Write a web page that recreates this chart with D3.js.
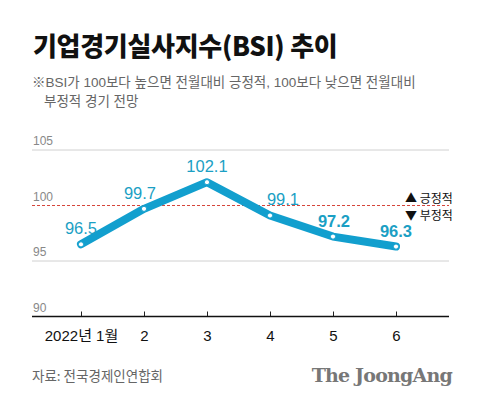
<!DOCTYPE html>
<html>
<head>
<meta charset="utf-8">
<script src="https://cdn.jsdelivr.net/npm/d3@7"></script>
<style>
  body { margin: 0; background: #fff; }
  text { font-family: "Liberation Sans", "Noto Sans CJK KR", sans-serif; }
</style>
</head>
<body>
<div id="chart"></div>
<script>
// data
const months = ["2022년 1월", "2", "3", "4", "5", "6"];
const bsi = [96.5, 99.7, 102.1, 99.1, 97.2, 96.3];
const yTicks = [90, 95, 100, 105];
const boldLabels = [false, false, false, false, true, true];
const labelDx = [0, -4, 0, 13, 1, 0];
const legendItems = ["▲ 긍정적", "▼ 부정적"];

const W = 480, H = 409;
const blue = "#129fce", labelBlue = "#1b9fc4";

var svg = d3.select("#chart").append("svg")
  .attr("width", W).attr("height", H);

// title + note
svg.append("text").attr("x", 33).attr("y", 56)
  .attr("font-size", 26).attr("font-weight", 900).attr("fill", "#111")
  .style("font-family", "'Noto Sans CJK KR', sans-serif")
  .attr("letter-spacing", -0.3)
  .text("기업경기실사지수(BSI) 추이");

svg.append("text").attr("x", 32).attr("y", 87)
  .attr("font-size", 13.5).attr("fill", "#666")
  .text("※BSI가 100보다 높으면 전월대비 긍정적, 100보다 낮으면 전월대비");
svg.append("text").attr("x", 44).attr("y", 106)
  .attr("font-size", 13.5).attr("fill", "#666")
  .text("부정적 경기 전망");

// scales
var x = d3.scalePoint().domain(months).range([81, 396]);
var y = d3.scaleLinear().domain([90, 105]).range([316.5, 150]);

// grid lines (100 is the dashed reference line)
svg.selectAll(".grid").data(yTicks.filter(d => d != 90 && d != 100))
  .enter().append("line")
  .attr("x1", 32).attr("x2", 449)
  .attr("y1", d => y(d)).attr("y2", d => y(d))
  .attr("stroke", "#d0d0d0").attr("stroke-width", 1);

svg.append("line")
  .attr("x1", 32).attr("x2", 449)
  .attr("y1", y(100)).attr("y2", y(100))
  .attr("stroke", "#d6453b").attr("stroke-width", 1)
  .attr("stroke-dasharray", "3,2");

svg.selectAll(".ylab").data(yTicks).enter().append("text")
  .attr("x", 33).attr("y", d => y(d) - 5)
  .attr("font-size", 12).attr("fill", "#888")
  .text(d => d);

// x axis
var xAxis = svg.append("g").attr("transform", "translate(0," + y(90) + ")")
  .call(d3.axisBottom(x).tickSizeInner(-5).tickSizeOuter(0).tickPadding(14));
xAxis.select(".domain").remove();
xAxis.selectAll(".tick line").attr("stroke", "#222");
xAxis.selectAll(".tick text").attr("font-size", 15).attr("fill", "#111")
  .style("font-family", "'Liberation Sans', 'Noto Sans CJK KR', sans-serif");
xAxis.append("line").attr("x1", 32).attr("x2", 449)
  .attr("stroke", "#111").attr("stroke-width", 1.5);

// legend, just above / below the 100 line
svg.selectAll(".leg").data(legendItems).enter().append("text")
  .attr("x", 405).attr("y", (d, i) => y(100) - 3 + i * 17)
  .attr("font-size", 12).attr("fill", "#111")
  .style("font-family", "'Noto Sans CJK KR', sans-serif")
  .text(d => d);

// line
var line = d3.line().x((d, i) => x(months[i])).y(d => y(d));
svg.append("path").datum(bsi)
  .attr("d", line).attr("fill", "none")
  .attr("stroke", blue).attr("stroke-width", 8)
  .attr("stroke-linejoin", "round").attr("stroke-linecap", "round");

svg.selectAll(".pt").data(bsi).enter().append("circle")
  .attr("cx", (d, i) => x(months[i])).attr("cy", d => y(d))
  .attr("r", 2.6).attr("fill", "#fff")
  .attr("stroke", blue).attr("stroke-width", 1);

svg.selectAll(".vlab").data(bsi).enter().append("text")
  .attr("x", (d, i) => x(months[i]) + labelDx[i]).attr("y", d => y(d) - 10)
  .attr("text-anchor", "middle")
  .attr("font-size", 16.5).attr("fill", labelBlue)
  .attr("font-weight", (d, i) => boldLabels[i] ? 700 : 400)
  .text(d => d.toFixed(1));

// footer
svg.append("text").attr("x", 32).attr("y", 381)
  .attr("font-size", 13.5).attr("fill", "#666")
  .style("font-family", "'Noto Sans CJK KR', sans-serif")
  .text("자료: 전국경제인연합회");
svg.append("text").attr("x", 452).attr("y", 382)
  .attr("text-anchor", "end")
  .attr("font-size", 19).attr("font-weight", 700).attr("fill", "#777")
  .style("font-family", "'DejaVu Serif', 'Liberation Serif', serif")
  .attr("letter-spacing", -0.8)
  .text("The JoongAng");
</script>
</body>
</html>
